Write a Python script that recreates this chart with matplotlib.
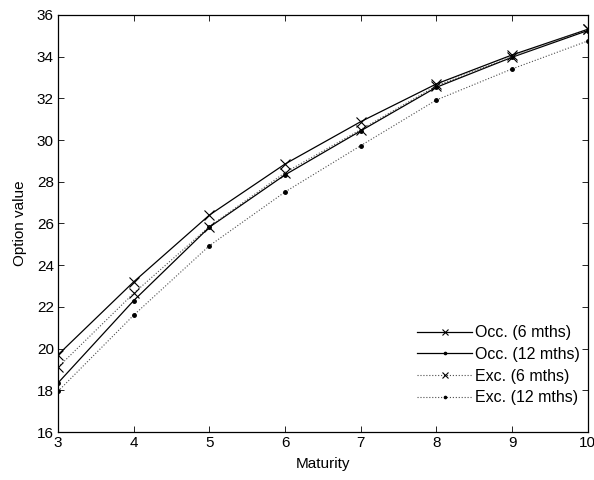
import matplotlib
matplotlib.use("Agg")
from matplotlib import pyplot as plt

plt.rcParams['font.family'] = ['Liberation Sans', 'DejaVu Sans']
plt.rcParams['font.size'] = 11

maturity = [3, 4, 5, 6, 7, 8, 9, 10]
occ_6 = [19.7, 23.2, 26.4, 28.85, 30.88, 32.69, 34.08, 35.31]
occ_12 = [18.35, 22.3, 25.82, 28.33, 30.44, 32.53, 33.97, 35.25]
exc_6 = [19.1, 22.65, 25.85, 28.44, 30.5, 32.6, 34.0, 35.3]
exc_12 = [17.95, 21.6, 24.93, 27.51, 29.73, 31.92, 33.41, 34.75]

fig = plt.figure(figsize=(5.94, 4.8), dpi=100)
ax = fig.add_axes([0.0976, 0.1, 0.892, 0.869])

ax.plot(maturity, occ_6, 'k-', marker='x', markersize=7, markeredgewidth=0.8,
        linewidth=0.9, label='Occ. (6 mths)')
ax.plot(maturity, occ_12, 'k-', marker='.', markersize=5, linewidth=0.9,
        label='Occ. (12 mths)')
ax.plot(maturity, exc_6, ':', color='0.3', marker='x', markersize=7, markeredgewidth=0.8,
        markeredgecolor='k', linewidth=0.8, label='Exc. (6 mths)')
ax.plot(maturity, exc_12, ':', color='0.3', marker='.', markersize=5, markeredgecolor='k',
        markerfacecolor='k', linewidth=0.8, label='Exc. (12 mths)')

ax.set_xlim(3, 10)
ax.set_ylim(16, 36)
ax.set_xticks(range(3, 11))
ax.set_yticks(range(16, 37, 2))
ax.tick_params(direction='in', top=True, right=True, length=4, width=0.6, labelsize=11, pad=3)
for s in ax.spines.values():
    s.set_linewidth(0.9)

ax.set_xlabel('Maturity', fontsize=11, labelpad=5)
ax.set_ylabel('Option value', fontsize=11, labelpad=7)

ax.legend(loc='lower right', bbox_to_anchor=(1.0, 0.045), frameon=False, fontsize=11.5,
          handlelength=3.4, handletextpad=0.2, labelspacing=0.42, numpoints=1,
          borderaxespad=0.1, markerscale=0.65)

fig.savefig('out.png', dpi=100)
